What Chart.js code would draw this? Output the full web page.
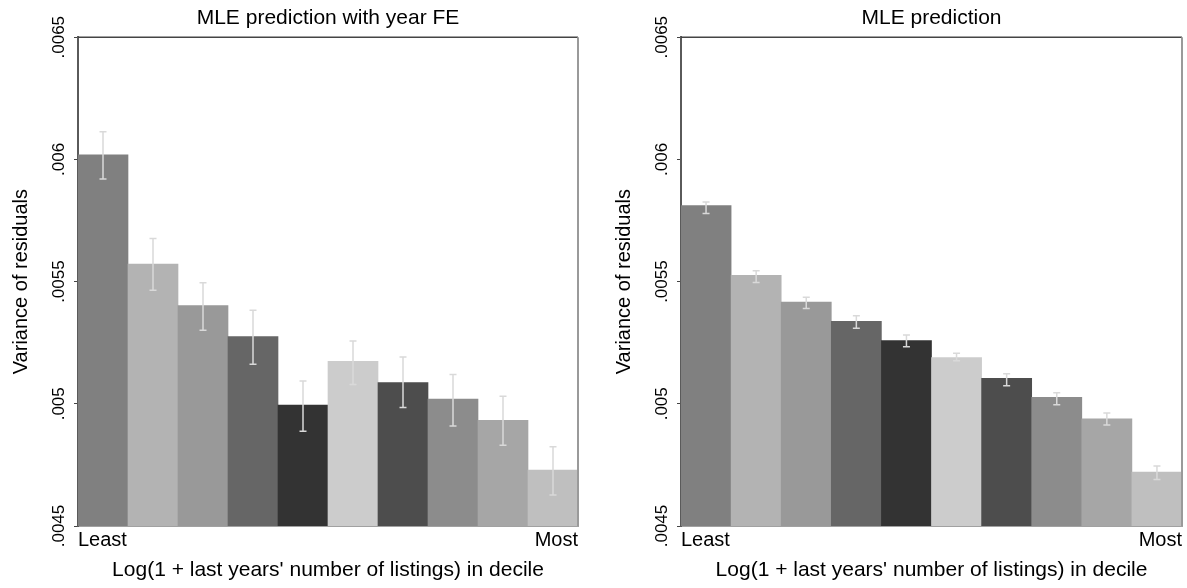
<!DOCTYPE html>
<html>
<head>
<meta charset="utf-8">
<script src="https://cdn.jsdelivr.net/npm/chart.js@4/dist/chart.umd.min.js"></script>
<style>
  html, body { margin: 0; padding: 0; background: #ffffff; }
  #wrap { position: relative; width: 1187px; height: 588px; overflow: hidden; }
  canvas { position: absolute; top: 0; }
</style>
</head>
<body>
<div id="wrap">
  <canvas id="c1" width="603" height="588" style="left:0px"></canvas>
  <canvas id="c2" width="584" height="588" style="left:603px"></canvas>
</div>
<script>
// ---- data ----
const categories = ['1', '2', '3', '4', '5', '6', '7', '8', '9', '10'];
const xEndLabels = ['Least', 'Most'];
const yTickValues = [0.0045, 0.005, 0.0055, 0.006, 0.0065];
const yTickLabels = ['.0045', '.005', '.0055', '.006', '.0065'];

const titleFE = 'MLE prediction with year FE';
const titleMLE = 'MLE prediction';
const yTitle = 'Variance of residuals';
const xTitle = "Log(1 + last years' number of listings) in decile";

const feValues = [0.006019, 0.005572, 0.005402, 0.005275, 0.004995, 0.005174, 0.005087, 0.005019, 0.004932, 0.004729];
const feLow    = [0.005920, 0.005465, 0.005301, 0.005162, 0.004888, 0.005079, 0.004985, 0.004909, 0.004830, 0.004627];
const feHigh   = [0.006113, 0.005676, 0.005495, 0.005383, 0.005093, 0.005257, 0.005191, 0.005120, 0.005031, 0.004824];

const mleValues = [0.005811, 0.005526, 0.005416, 0.005337, 0.005259, 0.005189, 0.005104, 0.005026, 0.004939, 0.004721];
const mleLow    = [0.005779, 0.005496, 0.005390, 0.005309, 0.005233, 0.005176, 0.005074, 0.004996, 0.004913, 0.004690];
const mleHigh   = [0.005826, 0.005544, 0.005436, 0.005360, 0.005282, 0.005207, 0.005123, 0.005045, 0.004962, 0.004745];

// ---- styles ----
const barColors = ['#808080', '#b3b3b3', '#999999', '#666666', '#333333', '#cccccc', '#4d4d4d', '#8c8c8c', '#a6a6a6', '#bfbfbf'];
const FONT = '"Liberation Sans", Arial, Helvetica, sans-serif';

const errorBarPlugin = {
  id: 'errorBars',
  afterDatasetsDraw(chart, args, opts) {
    const {ctx} = chart;
    const xs = chart.scales.x, ys = chart.scales.y;
    ctx.save();
    ctx.strokeStyle = opts.color || '#d9d9d9';
    ctx.lineWidth = 1.5;
    const cap = 3.5;
    for (let i = 0; i < opts.low.length; i++) {
      const x = xs.getPixelForValue(i);
      const y1 = ys.getPixelForValue(opts.low[i]);
      const y2 = ys.getPixelForValue(opts.high[i]);
      ctx.beginPath();
      ctx.moveTo(x, y1); ctx.lineTo(x, y2);
      ctx.moveTo(x - cap, y1); ctx.lineTo(x + cap, y1);
      ctx.moveTo(x - cap, y2); ctx.lineTo(x + cap, y2);
      ctx.stroke();
    }
    ctx.restore();
  }
};

const frameBorderPlugin = {
  id: 'frameBorder',
  afterDraw(chart) {
    const {ctx, chartArea: a} = chart;
    ctx.save();
    ctx.strokeStyle = '#444444';
    ctx.lineWidth = 1.5;
    ctx.beginPath();
    ctx.moveTo(a.left, a.top); ctx.lineTo(a.right, a.top);
    ctx.stroke();
    ctx.strokeStyle = '#9a9a9a';
    ctx.lineWidth = 2;
    ctx.beginPath();
    ctx.moveTo(a.right, a.top); ctx.lineTo(a.right, a.bottom);
    ctx.stroke();
    ctx.restore();
  }
};

function makeChart(id, title, values, low, high, rightPad) {
  return new Chart(document.getElementById(id), {
    type: 'bar',
    data: {
      labels: categories,
      datasets: [{
        data: values,
        backgroundColor: barColors,
        borderWidth: 0,
        categoryPercentage: 1.0,
        barPercentage: 1.0,
        xAxisID: 'x',
        yAxisID: 'y'
      }]
    },
    options: {
      responsive: false,
      animation: false,
      devicePixelRatio: 1,
      layout: { padding: { left: 0, right: rightPad, top: 0, bottom: 0 } },
      plugins: {
        legend: { display: false },
        tooltip: { enabled: false },
        title: {
          display: true,
          text: title,
          fullSize: false,
          color: '#000000',
          font: { family: FONT, size: 21, weight: 'normal', lineHeight: 1.2 },
          padding: { top: 6, bottom: 6 }
        },
        errorBars: { low: low, high: high, color: '#d9d9d9' }
      },
      scales: {
        x: {
          type: 'category',
          display: false,
          offset: true
        },
        x2: {
          type: 'linear',
          position: 'bottom',
          min: 0,
          max: 10,
          offset: false,
          grid: { display: false, drawTicks: false, offset: false },
          border: { display: true, color: '#444444', width: 1.5 },
          afterBuildTicks: (s) => { s.ticks = [{value: 0}, {value: 10}]; },
          ticks: {
            autoSkip: false,
            maxRotation: 0,
            minRotation: 0,
            align: 'inner',
            padding: 2,
            color: '#000000',
            font: { family: FONT, size: 20, lineHeight: 1.2 },
            callback: (v) => (v === 0 ? xEndLabels[0] : xEndLabels[1])
          },
          title: {
            display: true,
            text: xTitle,
            color: '#000000',
            font: { family: FONT, size: 21, lineHeight: 1.2 },
            padding: { top: 0, bottom: 5 }
          },
          afterFit: (s) => { s.height = 62; }
        },
        y: {
          type: 'linear',
          position: 'left',
          min: 0.0045,
          max: 0.0065,
          afterBuildTicks: (s) => { s.ticks = yTickValues.map(v => ({value: v})); },
          grid: { display: true, drawOnChartArea: false, drawTicks: true, tickLength: 4, color: '#444444', lineWidth: 1 },
          border: { display: true, color: '#5a5a5a', width: 2 },
          ticks: {
            minRotation: 90,
            maxRotation: 90,
            crossAlign: 'center',
            padding: -7,
            color: '#000000',
            font: { family: FONT, size: 17, lineHeight: 1.2 },
            callback: (v) => {
              const i = yTickValues.findIndex(t => Math.abs(t - v) < 1e-9);
              return i >= 0 ? yTickLabels[i] : '';
            }
          },
          title: {
            display: true,
            text: yTitle,
            color: '#000000',
            font: { family: FONT, size: 20, lineHeight: 1.2 },
            padding: { top: 9, bottom: 0 }
          },
          afterFit: (s) => { s.width = 78; }
        }
      }
    },
    plugins: [errorBarPlugin, frameBorderPlugin]
  });
}

makeChart('c1', titleFE, feValues, feLow, feHigh, 25);
makeChart('c2', titleMLE, mleValues, mleLow, mleHigh, 5);
</script>
</body>
</html>
